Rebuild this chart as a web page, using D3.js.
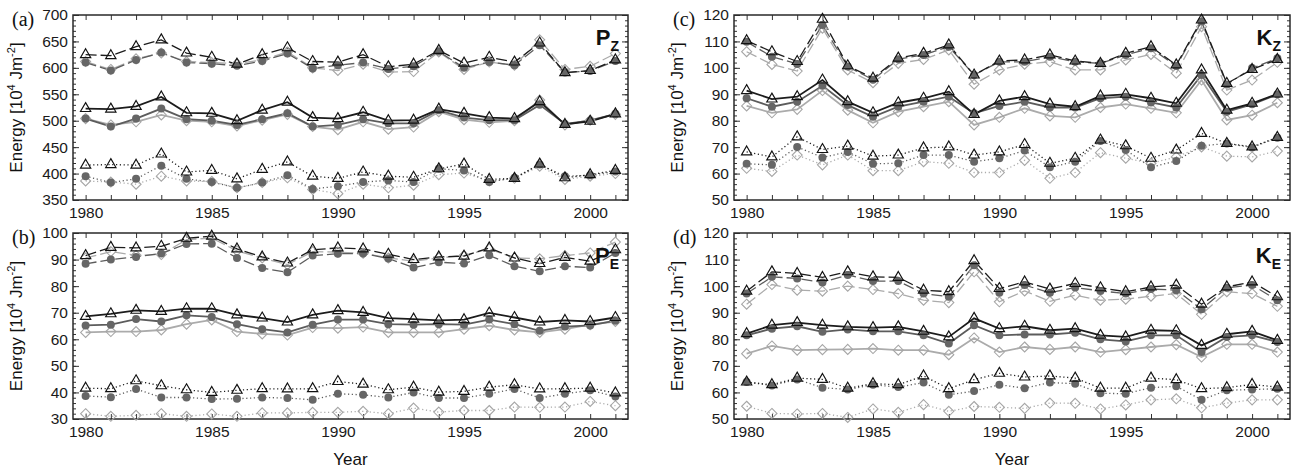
<!DOCTYPE html>
<html>
<head>
<meta charset="utf-8">
<script src="https://cdn.jsdelivr.net/npm/d3@7/dist/d3.min.js"></script>
<style>
body { margin: 0; background: #fff; }
svg { display: block; font-family: "Liberation Sans", Arial, sans-serif; }
</style>
</head>
<body>
<script>
// years on the x axis
var years = [1980, 1981, 1982, 1983, 1984, 1985, 1986, 1987, 1988, 1989, 1990,
             1991, 1992, 1993, 1994, 1995, 1996, 1997, 1998, 1999, 2000, 2001];
var yearLabels = [1980, 1985, 1990, 1995, 2000];

// tick labels of the four panels
var pzTicks = [350, 400, 450, 500, 550, 600, 650, 700];
var peTicks = [30, 40, 50, 60, 70, 80, 90, 100];
var kzTicks = [50, 60, 70, 80, 90, 100, 110, 120];
var keTicks = [50, 60, 70, 80, 90, 100, 110, 120];

// (a) P_Z
var pzDashTri  = [625, 623, 640, 653, 628, 620, 607, 625, 638, 612, 611, 625, 602, 607, 633, 609, 620, 611, 647, 591, 595, 615];
var pzDashCirc = [610, 595, 615, 629, 610, 608, 604, 613, 627, 599, 605, 610, 598, 603, 631, 600, 611, 605, 643, 591, 594, 613];
var pzDashDiam = [612, 597, 617, 628, 612, 610, 608, 615, 630, 600, 595, 607, 592, 593, 630, 597, 611, 605, 653, 597, 603, 627];
var pzSolTri   = [523, 522, 527, 545, 515, 514, 500, 520, 535, 506, 504, 516, 500, 501, 522, 514, 506, 504, 536, 493, 499, 513];
var pzSolCirc  = [504, 489, 504, 523, 503, 500, 492, 503, 514, 489, 492, 503, 495, 495, 520, 506, 501, 501, 530, 494, 500, 513];
var pzSolDiam  = [504, 492, 498, 511, 500, 498, 490, 501, 512, 489, 483, 498, 484, 488, 517, 502, 497, 500, 539, 492, 501, 512];
var pzDotTri   = [416, 417, 416, 437, 403, 406, 390, 408, 422, 395, 391, 403, 395, 393, 409, 418, 389, 391, 418, 392, 398, 406];
var pzDotCirc  = [395, 383, 390, 415, 390, 384, 373, 383, 397, 371, 376, 384, 387, 384, 409, 406, 384, 392, 417, 395, 397, 404];
var pzDotDiam  = [386, 384, 380, 395, 386, 385, 373, 383, 392, 370, 362, 380, 373, 378, 398, 401, 386, 391, 414, 389, 395, 400];

// (b) P_E
var peDashTri  = [91.5, 94.6, 94.4, 95, 98, 98.8, 94, 91, 88.7, 93.7, 94.4, 94, 92, 90, 91, 91.3, 94.4, 90.6, 88.5, 90.8, 89.4, 93.7];
var peDashCirc = [88.4, 90, 91, 92.3, 95.9, 96, 90.6, 86.8, 85.2, 91.5, 92.2, 92.3, 90.4, 87, 89, 88.5, 91.6, 87.5, 85.6, 87.5, 87, 92.5];
var peDashDiam = [90.6, 93, 91.6, 91.9, 97.5, 98.1, 93.3, 90.6, 88.1, 93, 92.8, 92.4, 90.6, 89.4, 90.6, 91.5, 94, 90.6, 90.3, 91.5, 92.5, 96.6];
var peSolTri   = [68.6, 69.6, 70.9, 70.5, 71.5, 71.5, 69.2, 68, 66.5, 69.2, 70.8, 70.1, 68, 67.6, 67.1, 67.4, 69.9, 68.2, 66.5, 67.1, 66.7, 68.2];
var peSolCirc  = [65.2, 65.5, 67.6, 66.7, 69, 68.4, 65.7, 63.8, 62.6, 65.5, 67.4, 67.4, 65.7, 65.5, 65.7, 65.5, 67.4, 65.7, 63.2, 64.8, 65.2, 67];
var peSolDiam  = [62.6, 62.9, 62.9, 63.5, 65.7, 67.3, 62.9, 62, 61.6, 64.4, 64.2, 64.6, 62.6, 62.6, 62.6, 63.8, 65.1, 63.5, 62.6, 63.8, 65.5, 66.7];
var peDotTri   = [41.6, 41.4, 44.4, 42.5, 41, 40, 40.8, 41.4, 41.3, 41.4, 44.1, 43.1, 41, 42, 40.1, 40.4, 42, 42.9, 41.3, 41.4, 41.6, 39.8];
var peDotCirc  = [38.7, 38.2, 41.3, 38.1, 38.1, 37.5, 37.6, 38.1, 37.9, 37.2, 39.5, 39.1, 38.1, 40, 37.9, 37.9, 39.5, 41.3, 37.9, 39.5, 40.8, 38.5];
var peDotDiam  = [32, 31, 31.4, 32, 31, 31.9, 31, 32.3, 32.3, 32.5, 32.5, 32.9, 32, 34.1, 32.6, 33.2, 33.2, 34.5, 34.4, 34.5, 36.6, 35];

// (c) K_Z
var kzDashTri  = [110.3, 106.1, 102.4, 118.4, 100.8, 96.1, 103.7, 105.5, 108.7, 97.3, 102.6, 103, 104.9, 102.6, 101.7, 105.5, 108, 101.1, 118.1, 94.1, 99.4, 103.2];
var kzDashCirc = [109.9, 104.2, 101.5, 116.2, 100.5, 95.5, 103.3, 104.9, 108, 97.3, 102.3, 102.3, 104.2, 102.3, 101.7, 104.9, 107.4, 100.7, 117.5, 93.7, 99.9, 103.6];
var kzDashDiam = [106.1, 101.3, 98.8, 115, 99.2, 94.4, 101.7, 103.2, 106.8, 93.8, 99.2, 101.4, 102.3, 99.2, 99.2, 103, 105.1, 98, 115.6, 91.6, 95.4, 102.1];
var kzSolTri   = [91.4, 88.2, 89.1, 95.4, 87.2, 83, 86.8, 88.5, 91, 82.4, 87.5, 89.1, 86.3, 85.3, 89.4, 90, 88.5, 86.6, 99.2, 84, 86.6, 90.1];
var kzSolCirc  = [88.5, 85.3, 87.2, 93.2, 85.9, 81.5, 85.3, 87.2, 89.1, 82.8, 85.6, 87.2, 85, 85, 88.5, 89.1, 86.9, 85, 97.3, 83.4, 86.2, 90];
var kzSolDiam  = [85.6, 83, 84.3, 91.4, 84, 79.2, 83.4, 85.3, 87.2, 78.4, 81.3, 84.7, 81.8, 81.3, 85, 86.3, 84.7, 83, 95.4, 80.3, 82.1, 86.8];
var kzDotTri   = [68.2, 66.3, 73.9, 69.1, 70.4, 66.6, 67, 69.7, 70.1, 67, 68.2, 71, 63.9, 65.8, 72.7, 70.5, 65.8, 68.9, 75.2, 71.4, 70.1, 73.7];
var kzDotCirc  = [63.7, 63.3, 70.1, 66.1, 68.2, 63.7, 63.9, 67, 67, 64.5, 65.8, 68.7, 62.4, 64.5, 72.3, 68.9, 62.4, 64.8, 70.5, 71.4, 69.9, 73.6];
var kzDotDiam  = [62, 60.8, 67, 63.3, 67, 61.1, 61.1, 64.5, 63.9, 60.4, 60.4, 65, 58.2, 60.4, 67.9, 65.8, 63.9, 66.3, 70.1, 66.6, 66.3, 68.5];

// (d) K_E
var keDashTri  = [98.1, 105.4, 104.8, 103.3, 105.4, 103.5, 103.3, 98.5, 97.9, 109.6, 99.1, 101.6, 98.9, 101, 99.4, 97.9, 99.7, 100.4, 93.2, 99.7, 101.6, 96];
var keDashCirc = [97.2, 103.5, 102.9, 101.4, 104.2, 101.9, 101.9, 97.2, 96, 107.9, 97.5, 100.4, 97.5, 99.5, 98.2, 97.2, 98.9, 98.5, 91.3, 99.4, 100.4, 94.7];
var keDashDiam = [93.2, 100.6, 98.5, 98.1, 100, 98.7, 97.2, 94.7, 93.8, 105.4, 94.1, 98.2, 94.3, 96.6, 94.7, 95.1, 96.2, 97.2, 89.4, 97.9, 97.2, 92.4];
var keSolTri   = [82.1, 85.3, 86.3, 85.3, 84.7, 84.4, 84.7, 83, 80.9, 87.9, 84, 84.9, 83.4, 84, 81.5, 80.9, 83.4, 83.2, 77.7, 81.9, 83, 79.6];
var keSolCirc  = [81.5, 84, 84.9, 82.8, 83.7, 83, 83, 81.5, 78.4, 85.3, 81.5, 81.8, 81.8, 82.5, 80, 79.2, 81.5, 81.5, 75.2, 80.9, 81.5, 79];
var keSolDiam  = [74.6, 77.5, 75.9, 76.1, 76.2, 76.5, 75.9, 75.9, 74.2, 80.5, 75.2, 77.1, 76.2, 77.1, 75.2, 76.1, 77.1, 78, 73.3, 78.1, 78.1, 75.2];
var keDotTri   = [63.9, 62.9, 65.4, 64.9, 61.6, 63.3, 62.9, 66.2, 61.4, 64.8, 67.2, 65.8, 66.2, 65.4, 61.6, 61.6, 65.4, 64.8, 61.4, 61.8, 63, 62];
var keDotCirc  = [63.9, 62.6, 64.9, 61.8, 61.1, 62.9, 62, 63.7, 59.1, 60.5, 62.9, 61.6, 63.7, 63.3, 59.7, 59.5, 61.8, 62.3, 57.2, 60.8, 61.1, 61.4];
var keDotDiam  = [54.8, 52.1, 51.9, 52.1, 50.6, 53.8, 52.5, 55.4, 52.9, 54.7, 54.4, 54, 56, 55.9, 53.8, 55.3, 57.2, 57.6, 54.2, 56, 57.2, 57.2];

var W = 1307, H = 473;

var svg = d3.select("body").append("svg")
    .attr("width", W)
    .attr("height", H);

// look of the three marker types and the three line types
var lineColor = { tri: "#1c1c1c", circ: "#5c5c5c", diam: "#ababab" };
var dashStyle = { dash: "11,4", solid: null, dot: "1.2,2.6" };

var panels = [
    { tag: "(a)", name: "P", sub: "Z", left: 73, right: 628, top: 15, bottom: 200,
      domain: [350, 700], ticks: pzTicks, minor: 10,
      groups: [
        { kind: "dash",  tri: pzDashTri, circ: pzDashCirc, diam: pzDashDiam },
        { kind: "solid", tri: pzSolTri,  circ: pzSolCirc,  diam: pzSolDiam },
        { kind: "dot",   tri: pzDotTri,  circ: pzDotCirc,  diam: pzDotDiam }] },
    { tag: "(b)", name: "P", sub: "E", left: 73, right: 628, top: 233, bottom: 419,
      domain: [30, 100], ticks: peTicks, minor: 2, xtitle: true,
      groups: [
        { kind: "dash",  tri: peDashTri, circ: peDashCirc, diam: peDashDiam },
        { kind: "solid", tri: peSolTri,  circ: peSolCirc,  diam: peSolDiam },
        { kind: "dot",   tri: peDotTri,  circ: peDotCirc,  diam: peDotDiam }] },
    { tag: "(c)", name: "K", sub: "Z", left: 734, right: 1290, top: 15, bottom: 200,
      domain: [50, 120], ticks: kzTicks, minor: 2,
      groups: [
        { kind: "dash",  tri: kzDashTri, circ: kzDashCirc, diam: kzDashDiam },
        { kind: "solid", tri: kzSolTri,  circ: kzSolCirc,  diam: kzSolDiam },
        { kind: "dot",   tri: kzDotTri,  circ: kzDotCirc,  diam: kzDotDiam }] },
    { tag: "(d)", name: "K", sub: "E", left: 734, right: 1290, top: 233, bottom: 419,
      domain: [50, 120], ticks: keTicks, minor: 2, xtitle: true,
      groups: [
        { kind: "dash",  tri: keDashTri, circ: keDashCirc, diam: keDashDiam },
        { kind: "solid", tri: keSolTri,  circ: keSolCirc,  diam: keSolDiam },
        { kind: "dot",   tri: keDotTri,  circ: keDotCirc,  diam: keDotDiam }] }
];

var triPath = d3.symbol().type(d3.symbolTriangle).size(46)();
var diamPath = "M0,-5L5,0L0,5L-5,0Z";

panels.forEach(function(p) {
    var xScale = d3.scaleLinear()
        .domain([1979.5, 2001.5])
        .range([p.left, p.right]);
    var yScale = d3.scaleLinear()
        .domain(p.domain)
        .range([p.bottom, p.top]);

    var g = svg.append("g");

    //minor y ticks, left and right
    var minorVals = d3.range(p.domain[0], p.domain[1] + 0.001, p.minor);
    g.append("g")
        .attr("transform", "translate(" + p.left + ",0)")
        .call(d3.axisLeft(yScale).tickValues(minorVals).tickSizeInner(-3).tickSizeOuter(0).tickFormat(""));
    g.append("g")
        .attr("transform", "translate(" + p.right + ",0)")
        .call(d3.axisRight(yScale).tickValues(minorVals).tickSizeInner(-3).tickSizeOuter(0).tickFormat(""));

    //y axis with labels
    g.append("g")
        .attr("class", "y axis")
        .attr("transform", "translate(" + p.left + ",0)")
        .call(d3.axisLeft(yScale).tickValues(p.ticks).tickSizeInner(-6).tickSizeOuter(0).tickPadding(5));
    g.append("g")
        .attr("transform", "translate(" + p.right + ",0)")
        .call(d3.axisRight(yScale).tickValues(p.ticks).tickSizeInner(-6).tickSizeOuter(0).tickFormat(""));

    //x axis, tick at every year, label every five
    g.append("g")
        .attr("class", "x axis")
        .attr("transform", "translate(0," + p.bottom + ")")
        .call(d3.axisBottom(xScale).tickValues(years).tickSizeInner(-5).tickSizeOuter(0).tickPadding(7)
            .tickFormat(function(d) { return yearLabels.indexOf(d) >= 0 ? d : ""; }));
    g.append("g")
        .attr("transform", "translate(0," + p.top + ")")
        .call(d3.axisTop(xScale).tickValues(years).tickSizeInner(-5).tickSizeOuter(0).tickFormat(""));

    g.selectAll(".domain").remove();
    g.selectAll(".tick line").attr("stroke", "#333");
    g.selectAll(".tick text")
        .attr("fill", "#1a1a1a")
        .style("font-size", "15.5px")
        .style("font-family", "'Liberation Sans', Arial, sans-serif");

    // frame
    g.append("rect")
        .attr("x", p.left)
        .attr("y", p.top)
        .attr("width", p.right - p.left)
        .attr("height", p.bottom - p.top)
        .attr("fill", "none")
        .attr("stroke", "#2a2a2a")
        .attr("stroke-width", 1.5);

    // lines, light ones first
    var line = d3.line()
        .x(function(d, i) { return xScale(years[i]); })
        .y(function(d) { return yScale(d); });

    ["diam", "circ", "tri"].forEach(function(m) {
        p.groups.forEach(function(grp) {
            g.append("path")
                .datum(grp[m])
                .attr("d", line)
                .attr("fill", "none")
                .attr("stroke", lineColor[m])
                .attr("stroke-width", grp.kind == "solid" ? 1.8 : 1.3)
                .attr("stroke-dasharray", dashStyle[grp.kind]);
        });
    });

    // markers
    p.groups.forEach(function(grp) {
        g.selectAll(null)
            .data(grp.diam)
            .enter()
            .append("path")
            .attr("d", diamPath)
            .attr("transform", function(d, i) { return "translate(" + xScale(years[i]) + "," + yScale(d) + ")"; })
            .attr("fill", "none")
            .attr("stroke", "#a6a6a6")
            .attr("stroke-width", 1.1);
    });
    p.groups.forEach(function(grp) {
        g.selectAll(null)
            .data(grp.circ)
            .enter()
            .append("circle")
            .attr("cx", function(d, i) { return xScale(years[i]); })
            .attr("cy", function(d) { return yScale(d); })
            .attr("r", 4)
            .attr("fill", "#666");
    });
    p.groups.forEach(function(grp) {
        g.selectAll(null)
            .data(grp.tri)
            .enter()
            .append("path")
            .attr("d", triPath)
            .attr("transform", function(d, i) { return "translate(" + xScale(years[i]) + "," + yScale(d) + ")"; })
            .attr("fill", "none")
            .attr("stroke", "#111")
            .attr("stroke-width", 1.15);
    });

    // panel letter
    g.append("text")
        .attr("x", p.left - 61)
        .attr("y", p.top + 11)
        .style("font-family", "'Liberation Serif', 'Times New Roman', serif")
        .style("font-size", "20px")
        .attr("fill", "#111")
        .text(p.tag);

    // quantity name, top right
    var nm = g.append("text")
        .attr("x", p.right - 9)
        .attr("y", p.top + 30)
        .attr("text-anchor", "end")
        .style("font-weight", "bold")
        .style("font-size", "22px")
        .attr("fill", "#111");
    nm.append("tspan").text(p.name);
    nm.append("tspan").attr("dy", 6).style("font-size", "14px").text(p.sub);

    // y title
    var yt = g.append("text")
        .attr("transform", "translate(" + (p.left - 51) + "," + ((p.top + p.bottom) / 2) + ") rotate(-90)")
        .attr("text-anchor", "middle")
        .style("font-size", "17px")
        .attr("fill", "#111");
    yt.append("tspan").text("Energy [10");
    yt.append("tspan").attr("dy", -7).style("font-size", "11px").text("4");
    yt.append("tspan").attr("dy", 7).text(" Jm");
    yt.append("tspan").attr("dy", -7).style("font-size", "11px").text("-2");
    yt.append("tspan").attr("dy", 7).text("]");

    if (p.xtitle) {
        g.append("text")
            .attr("x", (p.left + p.right) / 2)
            .attr("y", 465)
            .attr("text-anchor", "middle")
            .style("font-size", "17px")
            .attr("fill", "#111")
            .text("Year");
    }
});
</script>
</body>
</html>
